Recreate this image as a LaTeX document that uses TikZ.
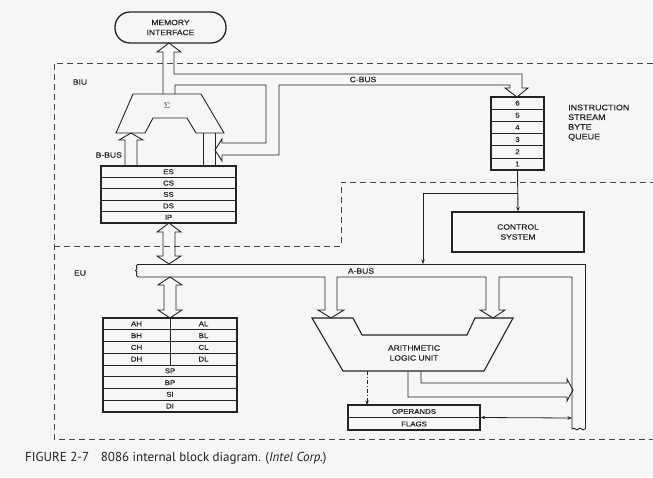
\documentclass[tikz,border=0pt]{standalone}
\usepackage{fontspec}
\setmainfont{Liberation Sans}
\newfontfamily\labfont{Liberation Sans}[FakeStretch=1.12, FakeBold=0.4]
\newfontfamily\capfont{PT Sans}
\usetikzlibrary{arrows.meta}

\definecolor{paper}{RGB}{246,246,246}
\definecolor{ink}{RGB}{35,35,35}

\begin{document}
\begin{tikzpicture}[x=1pt,y=-1pt, line join=miter,
  every node/.style={text=ink, inner sep=0pt, font=\labfont\fontsize{7.6}{10}\selectfont},
  bus/.style={draw=ink, line width=0.9pt},
  box/.style={draw=ink, line width=1.3pt},
  sep/.style={draw=ink, line width=0.7pt},
  region/.style={draw=ink!85, line width=0.9pt, dash pattern=on 6pt off 4pt},
  reg/.style={font=\labfont\fontsize{7}{8}\selectfont},
  tip/.style={-{Stealth[length=4.5pt,width=3.5pt]}},
  tips/.style={{Stealth[length=4.5pt,width=3.5pt]}-{Stealth[length=4.5pt,width=3.5pt]}},
]
\useasboundingbox (0,0) rectangle (653,477);
\fill[paper] (0,0) rectangle (653,477);

% ---------- unit boundaries ----------
\draw[region] (653,63) -- (54,63) -- (54,439) -- (653,439);
\draw[region] (54,246) -- (341,246) -- (341,182) -- (653,182);
\node (biu) at (80,82) {BIU};
\node (eu) at (80,273) {EU};

% ---------- bus interface unit ----------
\node[box, rounded corners=15pt, minimum width=111pt, minimum height=31pt, align=center]
  (mem) at (170.5,27.5) {MEMORY\\INTERFACE};

% address adder
\draw[bus] (133,94) -- (201,94) -- (224,133) -- (196,133) -- (187,118)
  -- (153,118) -- (145,133) -- (116,133) -- cycle;
\node (sigma) at (167,106) {$\Sigma$};

% adder output to memory, C-bus to the queue and back to the adder
\draw[bus] (163,94) -- (163,52) -- (157,52) -- (169,43) -- (181,52) -- (174,52)
  -- (174,74) -- (522,74) -- (522,88) -- (528,88) -- (517,97) -- (505,88)
  -- (510,88) -- (510,85) -- (279,85) -- (279,155) -- (222,155) -- (222,161)
  -- (215,150) -- (222,139) -- (222,143) -- (266,143) -- (266,85) -- (175,85)
  -- (175,94);
\node (cbus) at (363,79.5) {C-BUS};

% segment registers
\node[box, minimum width=135pt, minimum height=57pt] (seg) at (168.5,194.5) {};
\foreach \i in {1,...,4} \draw[sep] (101,166+11.4*\i) -- (236,166+11.4*\i);
\foreach \t [count=\i] in {ES,CS,SS,DS,IP}
  \node[reg] (seg\i) at (168.5,166+11.4*\i-5.7) {\t};

% B-bus into the adder, right leg with the C-bus arrow
\draw[bus] (125,166) -- (125,140) -- (119,140) -- (131,133) -- (143,140)
  -- (137,140) -- (137,166);
\node[anchor=east] (bbus) at (122,155) {B-BUS};
\draw[bus] (203,133) -- (203,166);
\draw[bus] (215,133) -- (215,166);

% instruction queue
\node[box, minimum width=53pt, minimum height=73pt] (queue) at (517.5,133.5) {};
\foreach \i in {1,...,5} \draw[sep] (491,97+12.17*\i) -- (544,97+12.17*\i);
\foreach \t [count=\i] in {6,5,4,3,2,1}
  \node[reg] (q\t) at (517.5,97+12.17*\i-6.1) {\t};
\node[anchor=north west, align=left, font=\labfont\fontsize{8}{9.7}\selectfont]
  (qlbl) at (568,104.5) {INSTRUCTION\\STREAM\\BYTE\\QUEUE};

% control system
\node[box, minimum width=132pt, minimum height=40pt, align=center]
  (ctrl) at (518,232) {CONTROL\\SYSTEM};
\coordinate (qsplit) at (518,193);
\coordinate (abustop) at (423,264);
\draw[bus, tip] (queue.south) -- (ctrl.north);
\draw[bus, tip] (qsplit) -- (423,193) -- (abustop);

% BIU <-> EU transfer
\draw[bus] (169,223) -- (181,232) -- (175,232) -- (175,256) -- (181,256)
  -- (169,264) -- (157,256) -- (163,256) -- (163,232) -- (157,232) -- cycle;

% ---------- execution unit ----------
% internal bus with break marks
\draw[bus] (138,264) -- (585,264) -- (585,429);
\draw[bus] (138,277) -- (325,277) -- (325,310) -- (318,310) -- (331,318)
  -- (344,310) -- (337,310) -- (337,277) -- (486,277) -- (486,310) -- (480,310)
  -- (493,318) -- (505,310) -- (499,310) -- (499,277) -- (572,277) -- (572,429);
\draw[bus] (138,264) .. controls (134,266) and (139,269) .. (135.5,270.5)
  .. controls (139,272) and (134,275) .. (138,277);
\draw[bus] (572,429) .. controls (574.5,426) and (576.5,432) .. (578.5,429)
  .. controls (580.5,426) and (582.5,432) .. (585,429);
\node (abus) at (361,271) {A-BUS};

% general registers
\draw[bus] (170,277) -- (182,285) -- (176,285) -- (176,310) -- (182,310)
  -- (170,318) -- (158,310) -- (164,310) -- (164,285) -- (158,285) -- cycle;
\node[box, minimum width=134pt, minimum height=94pt] (gpr) at (170,365) {};
\foreach \i in {1,...,7} \draw[sep] (103,318+11.75*\i) -- (237,318+11.75*\i);
\draw[sep] (170,318) -- (170,365);
\foreach \h/\l [count=\i] in {AH/AL,BH/BL,CH/CL,DH/DL} {
  \node[reg] (r\h) at (136.5,318+11.75*\i-5.9) {\h};
  \node[reg] (r\l) at (203.5,318+11.75*\i-5.9) {\l};
}
\foreach \t [count=\i from 5] in {SP,BP,SI,DI}
  \node[reg] (r\t) at (170,318+11.75*\i-5.9) {\t};

% arithmetic logic unit
\draw[bus, line width=1.1pt] (312,318) -- (353,318) -- (362,335) -- (467,335)
  -- (475,318) -- (513,318) -- (484,371) -- (343,371) -- cycle;
\node[align=center] (alu) at (414,353) {ARITHMETIC\\LOGIC UNIT};

% ALU result back onto the bus
\draw[bus] (421,371) -- (421,383) -- (567,383) -- (567,379) -- (573,390)
  -- (567,401) -- (567,397) -- (408,397) -- (408,371);

% operands and flags
\node[box, minimum width=132pt, minimum height=25pt] (opf) at (414,417.5) {};
\draw[sep] (opf.west) -- (opf.east);
\node[reg] (oper) at (414,411.5) {OPERANDS};
\node[reg] (flags) at (414,424) {FLAGS};
\coordinate (aluout) at (367,371);
\draw[draw=ink, line width=0.8pt, dash pattern=on 4pt off 2pt on 1pt off 2pt, tip]
  (aluout) -- (367,405);
\coordinate (busleft) at (572,418);
\draw[draw=ink, line width=0.8pt, tips] (opf.east) -- (busleft);

% caption
\node[anchor=base west, font=\capfont\fontsize{13}{15}\selectfont] (cap) at (25,461)
  {FIGURE 2-7\hspace{0.9em}8086 internal block diagram. (\textit{Intel Corp.})};
\end{tikzpicture}
\end{document}
